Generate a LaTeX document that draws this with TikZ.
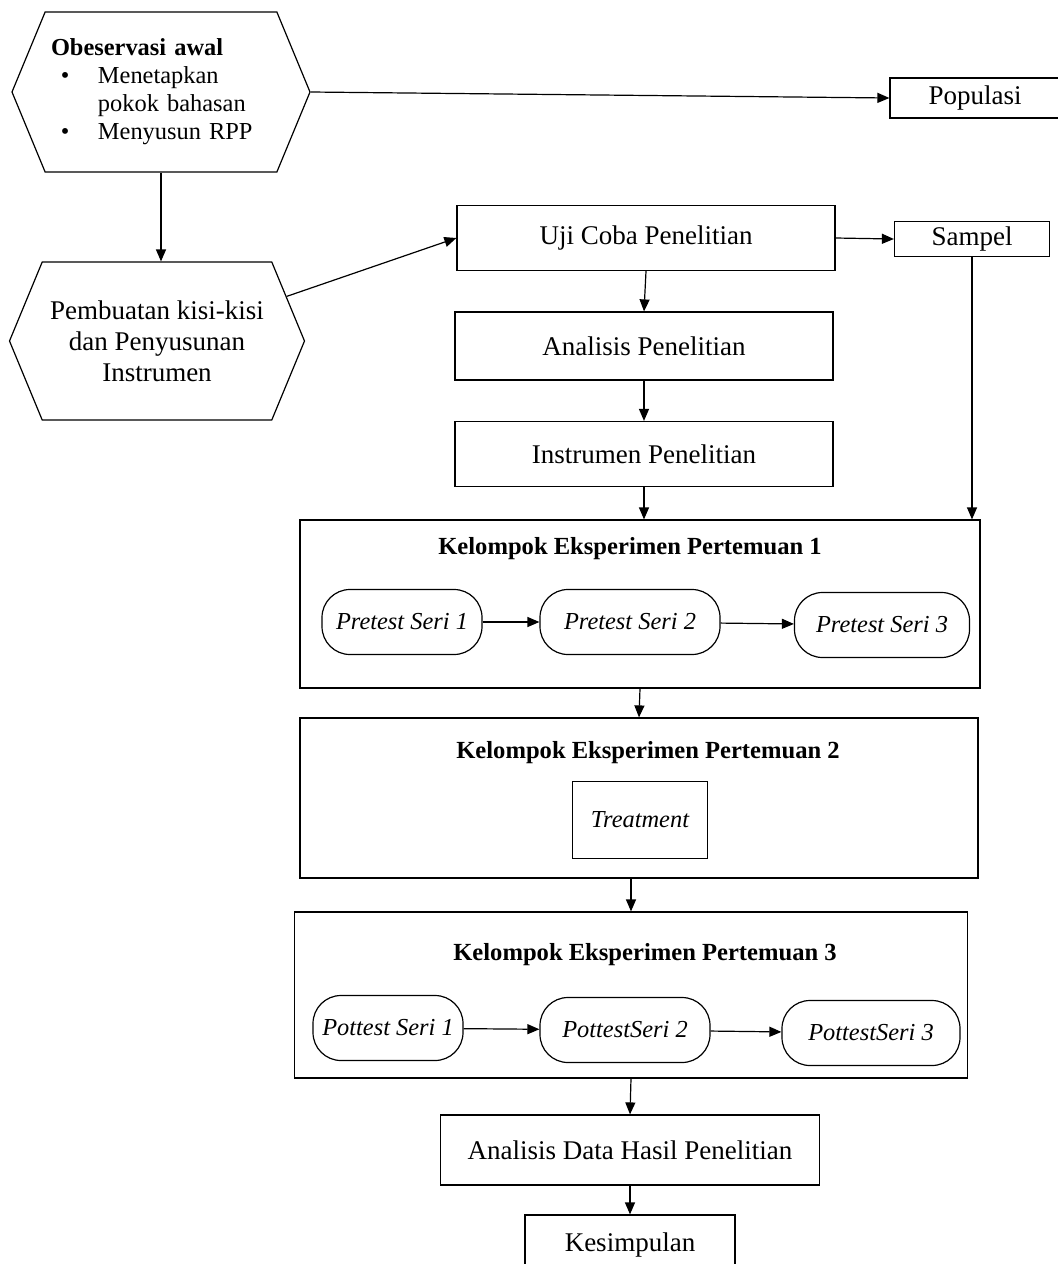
\documentclass[tikz,border=0pt]{standalone}
\usepackage{fontspec}
\setmainfont{Liberation Serif}
\usepackage{tikz}
\usetikzlibrary{shapes.symbols, arrows.meta}

\tikzset{
    box/.style={draw, line width=0.6pt, inner sep=0pt, align=center, font=\fontsize{13.5}{15.5}\selectfont},
    hexbox/.style={box, signal, signal to=west and east, signal pointer angle=135},
    groupbox/.style={draw, line width=0.6pt, inner sep=0pt},
    grouptitle/.style={inner sep=0pt, font=\fontsize{12.3}{14}\selectfont\bfseries},
    ovalbox/.style={draw, line width=0.6pt, rounded corners=14pt, inner sep=0pt, font=\fontsize{12.2}{14}\selectfont\itshape},
    arr/.style={line width=0.6pt, -{Triangle[length=6pt, width=5pt]}}
}

\begin{document}
\begin{tikzpicture}[x=0.5pt, y=-0.5pt]
            \useasboundingbox (0,0) rectangle (1057,1264);

            \node[hexbox, minimum width=149pt, minimum height=80pt, align=left, text width=110pt, font=\fontsize{12.2}{14}\selectfont] (obs) at (161,92) {
                \textbf{Obeservasi awal}\\
                \hspace*{5pt}\makebox[18.5pt][l]{\textbullet}Menetapkan\\
                \hspace*{23.5pt}pokok bahasan\\
                \hspace*{5pt}\makebox[18.5pt][l]{\textbullet}Menyusun RPP
            };
            \node[hexbox, minimum width=147.5pt, minimum height=79pt] (kisi) at (157,341) {
                Pembuatan kisi-kisi\\
                dan Penyusunan\\
                Instrumen
            };

            \node[box, minimum width=85pt, minimum height=20pt] (pop) at (975,98) {Populasi};
            \node[box, minimum width=77.5pt, minimum height=17.5pt] (smp) at (972,239) {Sampel};

            \node[box, minimum width=189pt, minimum height=32.5pt] (uji) at (646,238) {Uji Coba Penelitian};
            \node[box, minimum width=189pt, minimum height=34pt] (ana) at (644,346) {Analisis Penelitian};
            \node[box, minimum width=189pt, minimum height=32.5pt] (ins) at (644,454) {Instrumen Penelitian};

            \node[groupbox, minimum width=340pt, minimum height=84pt] (k1) at (640,604) {};
            \node[grouptitle] (k1title) at (630,549) {Kelompok Eksperimen Pertemuan 1};
            \node[ovalbox, minimum width=80pt, minimum height=32.5pt] (pre1) at (402,622) {Pretest Seri 1};
            \node[ovalbox, minimum width=90pt, minimum height=32.5pt] (pre2) at (630,622) {Pretest Seri 2};
            \node[ovalbox, minimum width=87.5pt, minimum height=32.5pt] (pre3) at (882,625) {Pretest Seri 3};

            \node[groupbox, minimum width=339pt, minimum height=80pt] (k2) at (639,798) {};
            \node[grouptitle] (k2title) at (648,753) {Kelompok Eksperimen Pertemuan 2};
            \node[box, minimum width=67.5pt, minimum height=38.5pt, font=\fontsize{12.2}{14}\selectfont\itshape] (trt) at (640,820) {Treatment};

            \node[groupbox, minimum width=336.5pt, minimum height=83pt] (k3) at (631,995) {};
            \node[grouptitle] (k3title) at (645,955) {Kelompok Eksperimen Pertemuan 3};
            \node[ovalbox, minimum width=75pt, minimum height=32.5pt] (post1) at (388,1028) {Pottest Seri 1};
            \node[ovalbox, minimum width=85pt, minimum height=32.5pt] (post2) at (625,1030) {PottestSeri 2};
            \node[ovalbox, minimum width=89pt, minimum height=32.5pt] (post3) at (871,1033) {PottestSeri 3};

            \node[box, minimum width=189.5pt, minimum height=35pt] (hasil) at (630,1150) {Analisis Data Hasil Penelitian};
            \node[box, minimum width=105pt, minimum height=30pt] (kes) at (630,1245) {Kesimpulan};

            \draw[arr] (obs.east) -- (pop.west);
            \draw[arr] (obs.south) -- (obs.south |- kisi.north);
            \draw[arr] (kisi) -- (uji.west);
            \draw[arr] (uji.east) -- (smp.west);
            \draw[arr] (smp.south) -- (smp.south |- k1.north);
            \draw[arr] (uji.south) -- (ana.north);
            \draw[arr] (ana.south) -- (ins.north);
            \draw[arr] (ins.south) -- (ins.south |- k1.north);

            \draw[arr] (pre1) -- (pre2);
            \draw[arr] (pre2) -- (pre3);
            \draw[arr] (k1.south) -- (k2.north);
            \draw[arr] (k3.north |- k2.south) -- (k3.north);
            \draw[arr] (post1) -- (post2);
            \draw[arr] (post2) -- (post3);
            \draw[arr] (k3.south) -- (hasil.north);
            \draw[arr] (hasil.south) -- (kes.north);
\end{tikzpicture}
\end{document}
